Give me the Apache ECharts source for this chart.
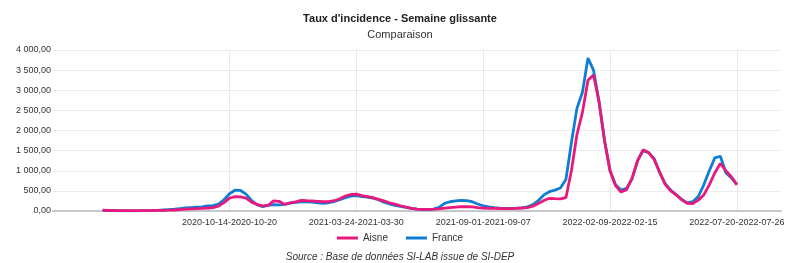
<!DOCTYPE html>
<html>
<head>
<meta charset="utf-8">
<script src="https://cdn.jsdelivr.net/npm/echarts@6/dist/echarts.min.js"></script>
<style>
  html, body { margin: 0; padding: 0; background: #fff; }
  #chart { width: 800px; height: 263px; }
</style>
</head>
<body>
<div id="chart"></div>
<script>
// weekly sliding windows, first one starts 2020-05-06
const firstWeek = "2020-05-06";
const tickLabels = [
    "2020-10-14-2020-10-20",
    "2021-03-24-2021-03-30",
    "2021-09-01-2021-09-07",
    "2022-02-09-2022-02-15",
    "2022-07-20-2022-07-26"
];

const aisne = [
    20, 15, 12, 10, 8, 8, 8, 10, 10, 12, 15, 18, 20, 25, 35, 45, 55, 60, 65, 75,
    85, 120, 210, 320, 355, 350, 320, 220, 160, 125, 140, 250, 240, 165, 200, 225, 265, 255, 250, 240,
    230, 235, 255, 305, 370, 410, 420, 380, 355, 330, 290, 250, 205, 170, 130, 95, 65, 45, 38, 38,
    45, 55, 70, 85, 95, 110, 105, 100, 85, 75, 68, 65, 62, 60, 60, 65, 75, 85, 120, 185,
    260, 315, 305, 300, 330, 1000, 1900, 2450, 3250, 3380, 2720, 1750, 1000, 630, 470, 530, 820, 1250, 1520, 1450,
    1280, 970, 660, 500, 400, 280, 190, 185, 270, 400, 650, 950, 1180, 1000, 850, 650
];

const france = [
    10, 8, 7, 6, 5, 5, 5, 7, 10, 12, 15, 25, 35, 45, 60, 75, 85, 95, 105, 125,
    135, 170, 280, 430, 515, 510, 420, 260, 160, 110, 140, 160, 150, 165, 195, 215, 230, 230, 220, 205,
    190, 205, 235, 280, 330, 370, 380, 360, 345, 320, 280, 220, 175, 140, 115, 90, 65, 45, 35, 35,
    45, 90, 190, 230, 250, 265, 255, 230, 175, 130, 105, 85, 70, 65, 65, 70, 80, 100, 160, 260,
    400, 480, 520, 570, 780, 1700, 2550, 2950, 3800, 3500, 2720, 1750, 1000, 650, 520, 560, 800, 1250, 1500, 1450,
    1300, 950, 680, 520, 400, 290, 200, 230, 360, 650, 1000, 1320, 1360, 950, 820, 660
];

const padBefore = 9;
const padAfter = 8;

let fmtDay = d => d.toISOString().slice(0, 10);

let buildWeeks = () => {
    const start = new Date(firstWeek + "T00:00:00Z");
    const weeks = [];
    for (let i = -padBefore; i < aisne.length + padAfter; i++) {
        const a = new Date(start.getTime() + i * 7 * 86400000);
        const b = new Date(a.getTime() + 6 * 86400000);
        weeks.push(fmtDay(a) + "-" + fmtDay(b));
    }
    return weeks;
};

let pad = arr => [].concat(Array(padBefore).fill(null), arr, Array(padAfter).fill(null));

let fr = v => {
    const s = v.toFixed(2).split(".");
    return s[0].replace(/\B(?=(\d{3})+(?!\d))/g, " ") + "," + s[1];
};

const categories = buildWeeks();
const showTick = (idx, val) => tickLabels.indexOf(val) >= 0;

const option = {
    animation: false,
    backgroundColor: "#fff",
    textStyle: { fontFamily: "Liberation Sans, Arial, sans-serif" },
    title: [
        {
            text: "Taux d'incidence - Semaine glissante",
            left: "center", top: 8,
            textStyle: { fontSize: 11, fontWeight: "bold", color: "#222" }
        },
        {
            text: "Comparaison",
            left: "center", top: 24,
            textStyle: { fontSize: 11, fontWeight: "normal", color: "#333" }
        },
        {
            text: "Source : Base de données SI-LAB issue de SI-DEP",
            left: "center", top: 247,
            textStyle: { fontSize: 10, fontWeight: "normal", fontStyle: "italic", color: "#333" }
        }
    ],
    legend: {
        data: ["Aisne", "France"],
        top: 228,
        left: "center",
        icon: "rect",
        itemWidth: 21,
        itemHeight: 3,
        itemGap: 18,
        textStyle: { fontSize: 10, color: "#333", padding: [0, 0, 0, 0] }
    },
    grid: { left: 53, right: 19, top: 50, bottom: 52 },
    xAxis: {
        type: "category",
        data: categories,
        boundaryGap: false,
        axisLine: { lineStyle: { color: "#c8c8c8", width: 2 } },
        axisTick: { show: false },
        axisLabel: { interval: showTick, fontSize: 9, color: "#333", margin: 7 },
        splitLine: { show: true, interval: showTick, lineStyle: { color: "#e8e8e8" } }
    },
    yAxis: {
        type: "value",
        min: 0, max: 4000, interval: 500,
        axisLine: { show: false },
        axisTick: { show: false },
        axisLabel: { formatter: fr, fontSize: 9, color: "#333", margin: 2 },
        splitLine: { lineStyle: { color: "#ececec" } }
    },
    series: [
        {
            name: "France", type: "line", data: pad(france),
            showSymbol: false, color: "#0f7dd4",
            lineStyle: { width: 2.8, color: "#0f7dd4" }
        },
        {
            name: "Aisne", type: "line", data: pad(aisne),
            showSymbol: false, color: "#e8187c",
            lineStyle: { width: 2.8, color: "#e8187c" }
        }
    ]
};

const chart = echarts.init(document.querySelector("#chart"), null, { renderer: "canvas" });
chart.setOption(option);
window.onresize = () => { chart.resize() };
</script>
</body>
</html>
